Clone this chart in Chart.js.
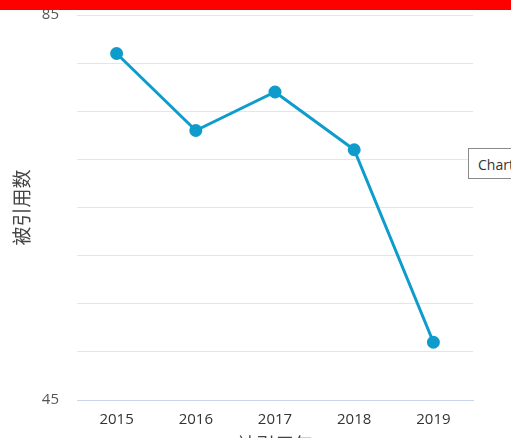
<!DOCTYPE html>
<html>
<head>
<meta charset="utf-8">
<script src="https://cdn.jsdelivr.net/npm/chart.js@4"></script>
<style>
    html, body { margin: 0; padding: 0; background: #fff; overflow: hidden; }
    #wrap { position: relative; width: 511px; height: 438px; overflow: hidden; }
    #miGrafico { position: absolute; left: 0; top: -12px; }
    #barraRoja { position: absolute; left: 0; top: 0; width: 511px; height: 10px; background: #ff0000; }
    #cajaChart {
        position: absolute; left: 468px; top: 148px; width: 60px; height: 31px;
        border: 1px solid #8a8a8a; background: #fff; box-sizing: border-box;
        font: 14px "Open Sans", "DejaVu Sans", sans-serif; color: #333;
        padding: 6px 0 0 9px;
    }
</style>
</head>
<body>
<div id="wrap">
    <canvas id="miGrafico" width="511" height="472"></canvas>
    <div id="barraRoja"></div>
    <div id="cajaChart">Chart</div>
</div>
<script>
const anios = ['2015', '2016', '2017', '2018', '2019'];
const citas = [81, 73, 77, 71, 51];
const ejeMin = 45;
const ejeMax = 85;
const etiquetasY = [85, 45];

const fuenteTicks = { family: '"Open Sans", "DejaVu Sans", sans-serif', size: 15 };
const fuenteTitulo = { family: '"Noto Sans CJK SC", sans-serif', size: 19 };

const ctx = document.getElementById('miGrafico').getContext('2d');
new Chart(ctx, {
    type: 'line',
    data: {
        labels: anios,
        datasets: [{
            label: '被引用数',
            data: citas,
            borderColor: '#0d9ccc',
            backgroundColor: '#0d9ccc',
            borderWidth: 3,
            pointRadius: 5,
            pointHoverRadius: 5,
            tension: 0
        }]
    },
    options: {
        responsive: false,
        animation: false,
        layout: { padding: { top: 4, right: 38, left: 0, bottom: 0 } },
        plugins: {
            legend: { display: false },
            tooltip: { enabled: false }
        },
        scales: {
            x: {
                offset: true,
                grid: { display: false, drawTicks: false },
                border: { display: true, color: '#ccd6eb', width: 1 },
                ticks: { color: '#333', font: fuenteTicks, padding: 11 },
                title: { display: true, text: '被引用年', color: '#444', font: fuenteTitulo, padding: { top: 4, bottom: 4 } },
                afterFit: (s) => { s.height = 60; }
            },
            y: {
                min: ejeMin,
                max: ejeMax,
                ticks: {
                    stepSize: 5,
                    color: '#555',
                    font: fuenteTicks,
                    padding: 18,
                    callback: (v) => etiquetasY.includes(v) ? v : ''
                },
                grid: { color: '#e6e6e6', drawTicks: false },
                border: { display: false },
                title: { display: true, text: '被引用数', color: '#444', font: fuenteTitulo, padding: { top: 10, bottom: 0 } },
                afterFit: (s) => { s.width = 77; }
            }
        }
    }
});
</script>
</body>
</html>
